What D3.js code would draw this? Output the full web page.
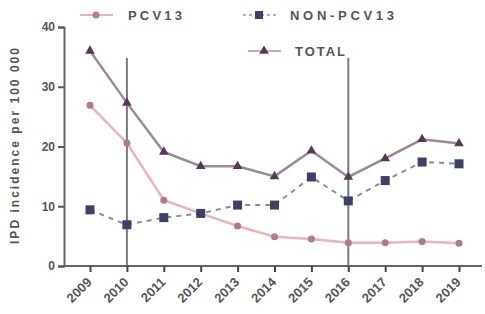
<!DOCTYPE html>
<html><head><meta charset="utf-8">
<script src="https://cdn.jsdelivr.net/npm/d3@7"></script>
<style>body{margin:0;background:#fff}svg{display:block}text{font-family:"Liberation Sans",Arial,sans-serif;font-weight:bold;fill:#555}</style>
</head><body><svg id="c" width="485" height="314"></svg>
<script>
const years = ["2009","2010","2011","2012","2013","2014","2015","2016","2017","2018","2019"];
const pcv13 = [26.9,20.6,11.0,8.8,6.7,4.9,4.5,3.9,3.9,4.1,3.8];
const nonPcv13 = [9.4,6.9,8.1,8.8,10.2,10.2,14.9,10.9,14.3,17.4,17.1];
const total = [36.0,27.3,19.1,16.7,16.7,15.0,19.3,14.9,18.0,21.2,20.5];
const yTicks = [0,10,20,30,40];
const refYears = ["2010","2016"];

const svg = d3.select("#c");
const x = d3.scalePoint().domain(years).range([90,459]);
const y = d3.scaleLinear().domain([0,40]).range([266,27]);

// reference vertical lines
svg.selectAll(".ref").data(refYears).enter().append("line")
  .attr("x1",d=>x(d)).attr("x2",d=>x(d)).attr("y1",58).attr("y2",266)
  .attr("stroke","#7a7a7a").attr("stroke-width",2);

// axes
const yAxis = svg.append("g").attr("transform","translate(64,0)")
  .call(d3.axisLeft(y).tickValues(yTicks).tickSize(6).tickPadding(3));
yAxis.select(".domain").attr("stroke","#666").attr("stroke-width",2);
yAxis.selectAll(".tick line").attr("stroke","#555").attr("stroke-width",2);
yAxis.selectAll("text").attr("font-size",12).style("font-family","Liberation Sans").style("font-weight","bold").attr("fill","#666");

const xAxis = svg.append("g").attr("transform","translate(0,266)")
  .call(d3.axisBottom(x).tickSize(6).tickSizeOuter(0));
xAxis.select(".domain").attr("d","M64,0H482").attr("stroke","#666").attr("stroke-width",2);
xAxis.selectAll(".tick line").attr("stroke","#444").attr("stroke-width",2);
xAxis.selectAll("text").attr("font-size",13).style("font-family","Liberation Sans").style("font-weight","bold").attr("fill","#666")
  .attr("text-anchor","end").attr("dy",null).attr("y",0)
  .attr("transform","translate(2,17) rotate(-45)");

// y label
svg.append("text").attr("transform","translate(19,146) rotate(-90)")
  .attr("text-anchor","middle").attr("font-size",12).attr("textLength",196).attr("lengthAdjust","spacing").attr("fill","#666")
  .text("IPD incidence per 100 000");

const line = d3.line().x((d,i)=>x(years[i])).y(d=>y(d));

// PCV13
svg.append("path").datum(pcv13).attr("d",line).attr("fill","none").attr("stroke","#e8b4b8").attr("stroke-width",2.5);
svg.selectAll(".p").data(pcv13).enter().append("circle")
  .attr("cx",(d,i)=>x(years[i])).attr("cy",d=>y(d)).attr("r",3.5).attr("fill","#b07a88");

// NON-PCV13
svg.append("path").datum(nonPcv13).attr("d",line).attr("fill","none").attr("stroke","#8a8c9c").attr("stroke-width",2).attr("stroke-dasharray","5,5");
svg.selectAll(".n").data(nonPcv13).enter().append("rect")
  .attr("x",(d,i)=>x(years[i])-4.5).attr("y",d=>y(d)-4.5).attr("width",9).attr("height",9).attr("fill","#3e4068");

// TOTAL
svg.append("path").datum(total).attr("d",line).attr("fill","none").attr("stroke","#9a8898").attr("stroke-width",2.5);
svg.selectAll(".t").data(total).enter().append("path")
  .attr("d",d3.symbol().type(d3.symbolTriangle).size(40))
  .attr("transform",(d,i)=>`translate(${x(years[i])},${y(d)})`).attr("fill","#553a58");

// legend
const leg = [
  {name:"PCV13", lx:80, ly:15, tx:128, w:54, col:"#e8b4b8", mk:"#c07a8a", type:"circle", dash:null},
  {name:"NON-PCV13", lx:243, ly:15, tx:290, w:104, col:"#b0b2c4", mk:"#3e4068", type:"square", dash:"3,3"},
  {name:"TOTAL", lx:248, ly:51, tx:295, w:50, col:"#c8a8c0", mk:"#553a58", type:"triangle", dash:null}
];
const lg = svg.selectAll(".leg").data(leg).enter().append("g");
lg.append("line").attr("x1",d=>d.lx).attr("x2",d=>d.lx+33).attr("y1",d=>d.ly).attr("y2",d=>d.ly)
  .attr("stroke",d=>d.col).attr("stroke-width",2).attr("stroke-dasharray",d=>d.dash);
lg.append("path").attr("d",d=>d3.symbol().type(d.type==="circle"?d3.symbolCircle:d.type==="square"?d3.symbolSquare:d3.symbolTriangle).size(d.type==="square"?64:40)())
  .attr("transform",d=>`translate(${d.lx+16},${d.ly})`).attr("fill",d=>d.mk);
lg.append("text").attr("x",d=>d.tx).attr("y",d=>d.ly+5).attr("font-size",13)
  .attr("textLength",d=>d.w).attr("lengthAdjust","spacing").attr("fill","#777").text(d=>d.name);
</script></body></html>
